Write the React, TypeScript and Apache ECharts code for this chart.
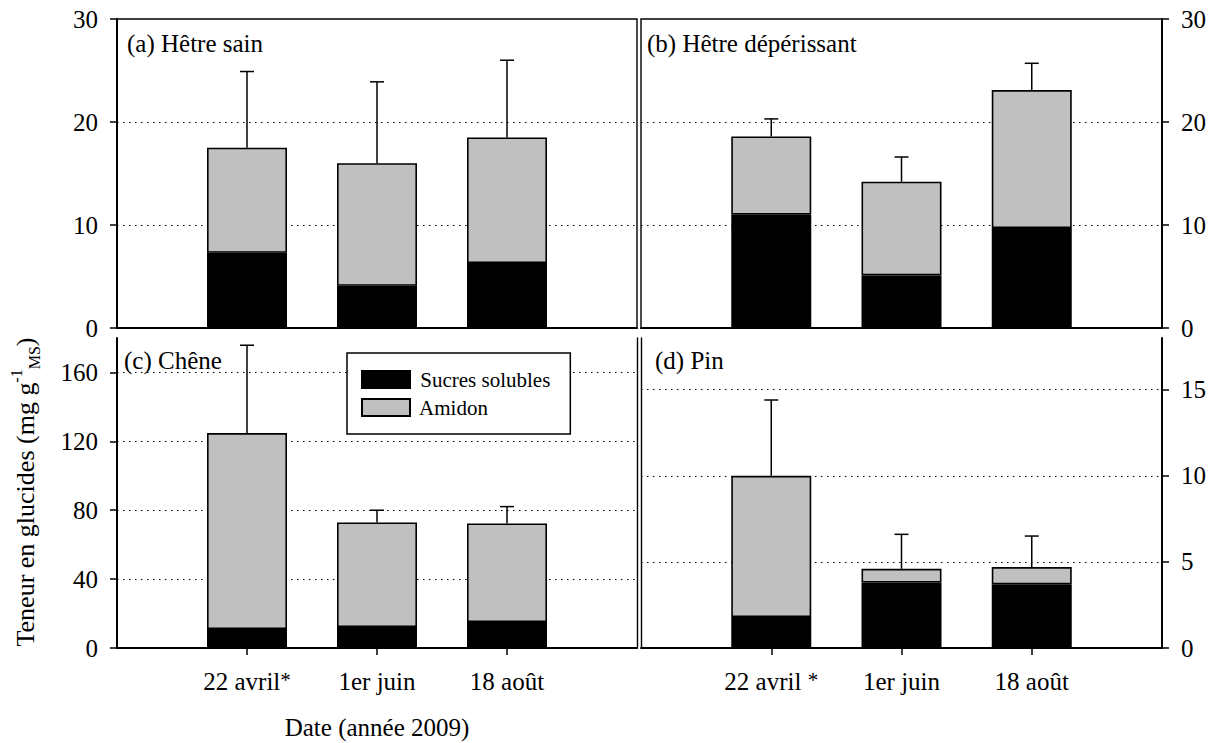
import React, { useEffect, useRef } from 'react';
import * as echarts from 'echarts';

// ---------- data ----------
const categories = ['22 avril', '1er juin', '18 août'];

const hetreSainSucres = [7.3, 4.1, 6.3];
const hetreSainAmidon = [10.2, 11.9, 12.2];
const hetreSainErreur = [7.4, 7.9, 7.5];

const hetreDepSucres = [11.0, 5.1, 9.7];
const hetreDepAmidon = [7.6, 9.1, 13.4];
const hetreDepErreur = [1.7, 2.4, 2.6];

const cheneSucres = [11.0, 12.2, 15.1];
const cheneAmidon = [113.8, 60.7, 57.2];
const cheneErreur = [51.0, 7.1, 9.8];

const pinSucres = [1.8, 3.8, 3.7];
const pinAmidon = [8.2, 0.8, 1.0];
const pinErreur = [4.4, 2.0, 1.8];

const hetreTicks = [0, 10, 20, 30];
const cheneTicks = [0, 40, 80, 120, 160];
const pinTicks = [0, 5, 10, 15];

const seriesNames = ['Sucres solubles', 'Amidon'];
const panelTitles = ['(a) Hêtre sain', '(b) Hêtre dépérissant', '(c) Chêne', '(d) Pin'];
const yAxisTitle = 'Teneur en glucides (mg g{sup|-1}{sub|MS})';
const xAxisTitle = 'Date (année 2009)';

// ---------- layout ----------
const FONT = "'Liberation Serif', 'Times New Roman', 'DejaVu Serif', serif";
const BLACK = '#000000';
const GREY = '#c0c0c0';
const FS = 25;

const panels = [
  { title: panelTitles[0], sucres: hetreSainSucres, amidon: hetreSainAmidon, err: hetreSainErreur, ticks: hetreTicks, max: 30, interval: 10, row: 0, col: 0, tx: 127, ty: 31 },
  { title: panelTitles[1], sucres: hetreDepSucres, amidon: hetreDepAmidon, err: hetreDepErreur, ticks: hetreTicks, max: 30, interval: 10, row: 0, col: 1, tx: 647, ty: 31 },
  { title: panelTitles[2], sucres: cheneSucres, amidon: cheneAmidon, err: cheneErreur, ticks: cheneTicks, max: 180, interval: 40, row: 1, col: 0, tx: 124, ty: 348 },
  { title: panelTitles[3], sucres: pinSucres, amidon: pinAmidon, err: pinErreur, ticks: pinTicks, max: 18, interval: 5, row: 1, col: 1, tx: 655, ty: 348 },
];

const gridBox = (row: number, col: number) => ({
  left: col === 0 ? 117 : 641,
  width: col === 0 ? 520 : 521,
  top: row === 0 ? 19 : 338,
  height: row === 0 ? 309 : 310,
});

export default function App() {
  const ref = useRef<HTMLDivElement>(null);

  useEffect(() => {
    if (!ref.current) return;
    const chart = echarts.init(ref.current, undefined, { renderer: 'svg' });

    const axisCats = ['', ...categories, ''];
    const inCat = (i: number) => i >= 1 && i <= categories.length;

    const grids: any[] = [];
    const xAxes: any[] = [];
    const yAxes: any[] = [];
    const series: any[] = [];
    const graphics: any[] = [];

    panels.forEach((p, i) => {
      const box = gridBox(p.row, p.col);
      grids.push({
        ...box,
        show: p.row === 0,
        borderColor: BLACK,
        borderWidth: 1.4,
        backgroundColor: 'transparent',
        containLabel: false,
      });

      const bottom = p.row === 1;
      xAxes.push({
        gridIndex: i,
        type: 'category',
        data: axisCats,
        boundaryGap: false,
        name: bottom && p.col === 0 ? xAxisTitle : '',
        nameLocation: 'middle',
        nameGap: 67,
        nameTextStyle: { fontFamily: FONT, fontSize: FS, color: BLACK },
        axisLine: { show: true, lineStyle: { color: BLACK, width: 2 } },
        axisTick: {
          show: bottom,
          interval: (idx: number) => inCat(idx),
          length: 7,
          lineStyle: { color: BLACK, width: 1.5 },
        },
        axisLabel: {
          show: bottom,
          interval: (idx: number) => inCat(idx),
          margin: 21,
          fontFamily: FONT,
          fontSize: FS,
          color: BLACK,
          formatter: (v: string) =>
            v === categories[0] ? (p.col === 0 ? v + '{star|*}' : v + ' {star|*}') : v,
          rich: {
            star: { fontFamily: FONT, fontSize: 21, color: BLACK, verticalAlign: 'top', lineHeight: 3 },
          },
        },
        splitLine: { show: false },
      });

      const lastTick = p.ticks[p.ticks.length - 1];
      const labeledIndex = yAxes.length;
      yAxes.push({
        gridIndex: i,
        type: 'value',
        min: 0,
        max: p.max,
        interval: p.interval,
        position: p.col === 0 ? 'left' : 'right',
        axisLine: { show: true, lineStyle: { color: BLACK, width: 2 } },
        axisTick: {
          show: true,
          length: 7,
          customValues: p.ticks,
          lineStyle: { color: BLACK, width: 1.5 },
        },
        axisLabel: {
          customValues: p.ticks,
          margin: 19,
          fontFamily: FONT,
          fontSize: FS,
          color: BLACK,
        },
        splitLine: {
          show: true,
          showMinLine: false,
          showMaxLine: lastTick !== p.max,
          lineStyle: { color: BLACK, width: 1.2, type: [1.5, 4.5] },
        },
      });
      if (bottom) {
        // border on the opposite side of the panel
        yAxes.push({
          gridIndex: i,
          type: 'value',
          min: 0,
          max: 1,
          position: p.col === 0 ? 'right' : 'left',
          axisLine: { show: true, lineStyle: { color: BLACK, width: 1.4 } },
          axisTick: { show: false },
          axisLabel: { show: false },
          splitLine: { show: false },
        });
      }

      series.push({
        name: seriesNames[0],
        type: 'bar',
        xAxisIndex: i,
        yAxisIndex: labeledIndex,
        stack: 'p' + i,
        barWidth: 80,
        data: ['-', ...p.sucres, '-'],
        itemStyle: { color: BLACK, borderColor: BLACK, borderWidth: 1.5 },
        z: 3,
      });
      series.push({
        name: seriesNames[1],
        type: 'bar',
        xAxisIndex: i,
        yAxisIndex: labeledIndex,
        stack: 'p' + i,
        barWidth: 80,
        data: ['-', ...p.amidon, '-'],
        itemStyle: { color: GREY, borderColor: BLACK, borderWidth: 1.6 },
        z: 3,
      });
      series.push({
        type: 'custom',
        xAxisIndex: i,
        yAxisIndex: labeledIndex,
        z: 4,
        silent: true,
        data: categories.map((_, k) => [k + 1, p.sucres[k] + p.amidon[k], p.err[k]]),
        renderItem: (params: any, api: any) => {
          const x = api.value(0);
          const top = api.value(1);
          const e = api.value(2);
          const a = api.coord([x, top]);
          const b = api.coord([x, top + e]);
          const style = { stroke: BLACK, lineWidth: 1.5 };
          return {
            type: 'group',
            children: [
              { type: 'line', shape: { x1: a[0], y1: a[1], x2: b[0], y2: b[1] }, style },
              { type: 'line', shape: { x1: b[0] - 7, y1: b[1], x2: b[0] + 7, y2: b[1] }, style },
            ],
          };
        },
      });

      graphics.push({
        type: 'text',
        left: p.tx,
        top: p.ty,
        z: 10,
        style: { text: p.title, fontFamily: FONT, fontSize: FS, fill: BLACK },
      });
    });

    graphics.push({
      type: 'text',
      x: 25,
      y: 492,
      rotation: Math.PI / 2,
      z: 10,
      style: {
        text: yAxisTitle,
        fontFamily: FONT,
        fontSize: 26,
        fill: BLACK,
        align: 'center',
        verticalAlign: 'middle',
        lineHeight: 34,
        rich: {
          sup: { fontFamily: FONT, fontSize: 16, fill: BLACK, verticalAlign: 'top', lineHeight: 16 },
          sub: { fontFamily: FONT, fontSize: 16, fill: BLACK, verticalAlign: 'bottom', lineHeight: 16 },
        },
      },
    });

    chart.setOption({
      animation: false,
      backgroundColor: '#ffffff',
      grid: grids,
      xAxis: xAxes,
      yAxis: yAxes,
      series,
      legend: {
        data: seriesNames,
        selectedMode: false,
        orient: 'vertical',
        left: 347,
        top: 353,
        icon: 'rect',
        itemWidth: 48,
        itemHeight: 17,
        itemGap: 7,
        padding: [16, 20, 16, 14],
        borderColor: BLACK,
        borderWidth: 1.5,
        backgroundColor: '#ffffff',
        formatter: (name: string) => ' ' + name,
        textStyle: { fontFamily: FONT, fontSize: 21, color: BLACK },
        z: 20,
      },
      graphic: graphics,
    });

    return () => chart.dispose();
  }, []);

  return (
    <div
      ref={ref}
      style={{ position: 'absolute', left: 0, top: 0, width: 1218, height: 743, background: '#fff' }}
    />
  );
}
